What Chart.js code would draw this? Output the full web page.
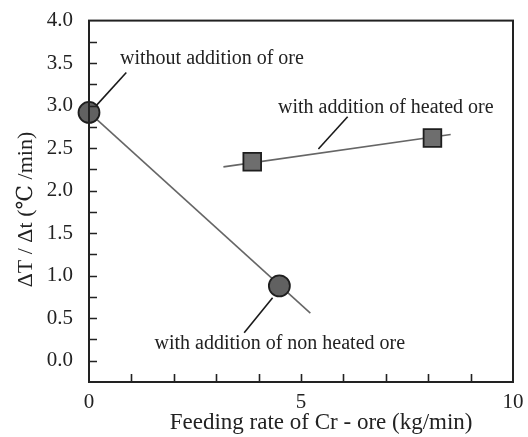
<!DOCTYPE html>
<html>
<head>
<meta charset="utf-8">
<script src="https://cdn.jsdelivr.net/npm/chart.js@4.4.1/dist/chart.umd.min.js"></script>
<style>
  html, body { margin: 0; padding: 0; background: #fff; }
  #wrap { width: 528px; height: 437px; }
</style>
</head>
<body>
<div id="wrap"><canvas id="chart" width="528" height="437"></canvas></div>
<script>
// data
const nonHeatedX = [0, 4.49];
const nonHeatedY = [2.92, 0.88];
const nonHeatedFitX = [0, 5.22];
const nonHeatedFitY = [2.92, 0.56];

const heatedX = [3.85, 8.1];
const heatedY = [2.34, 2.62];
const heatedFitX = [3.17, 8.53];
const heatedFitY = [2.28, 2.66];

// annotation labels with their leader lines (data coords)
const noteTexts = ['without addition of ore', 'with addition of heated ore', 'with addition of non heated ore'];
const noteTextX = [2.9, 7.0, 4.5];
const noteTextY = [3.55, 2.98, 0.2];
const leaderX = [[0.17, 0.88], [5.41, 6.1], [3.66, 4.33]];
const leaderY = [[3.0, 3.39], [2.49, 2.87], [0.33, 0.74]];

const xTickLabels = { 0: '0', 5: '5', 10: '10' };

const SERIF = '"Liberation Serif", "DejaVu Serif", serif';

function toPts(xs, ys) {
    return xs.map((x, i) => ({ x: x, y: ys[i] }));
}

const leaderSets = leaderX.map((xs, i) => ({
    type: 'line',
    data: toPts(xs, leaderY[i]),
    borderColor: '#1a1a1a',
    borderWidth: 1.6,
    pointRadius: 0,
    order: 3
}));

// inward ticks + box + notes
const frame = {
    id: 'frame',
    afterDatasetsDraw(chart) {
        const ctx = chart.ctx;
        const a = chart.chartArea;
        const xs = chart.scales.x, ys = chart.scales.y;
        ctx.save();
        ctx.strokeStyle = '#222';
        ctx.lineWidth = 1.6;
        ctx.beginPath();
        ys.ticks.forEach(t => {
            if (t.value <= ys.min + 1e-6 || t.value >= ys.max - 1e-6) return;
            const py = Math.round(ys.getPixelForValue(t.value)) + 0.5;
            ctx.moveTo(a.left, py);
            ctx.lineTo(a.left + 8, py);
        });
        xs.ticks.forEach(t => {
            if (t.value <= xs.min || t.value >= xs.max) return;
            const px = Math.round(xs.getPixelForValue(t.value)) + 0.5;
            ctx.moveTo(px, a.bottom);
            ctx.lineTo(px, a.bottom - 8);
        });
        ctx.stroke();
        ctx.lineWidth = 2;
        ctx.strokeRect(a.left, a.top, a.right - a.left, a.bottom - a.top);

        ctx.fillStyle = '#222';
        ctx.font = '20px ' + SERIF;
        ctx.textAlign = 'center';
        ctx.textBaseline = 'middle';
        noteTexts.forEach((s, i) => {
            ctx.fillText(s, xs.getPixelForValue(noteTextX[i]), ys.getPixelForValue(noteTextY[i]));
        });
        ctx.restore();
    }
};

new Chart(document.getElementById('chart'), {
    type: 'scatter',
    data: {
        datasets: [
            {
                type: 'line',
                data: toPts(nonHeatedFitX, nonHeatedFitY),
                borderColor: '#666',
                borderWidth: 1.6,
                pointRadius: 0,
                order: 2
            },
            {
                type: 'line',
                data: toPts(heatedFitX, heatedFitY),
                borderColor: '#666',
                borderWidth: 1.6,
                pointRadius: 0,
                order: 2
            },
            ...leaderSets,
            {
                data: toPts(nonHeatedX, nonHeatedY),
                pointStyle: 'circle',
                pointRadius: 10.5,
                backgroundColor: '#616161',
                borderColor: '#1e1e1e',
                borderWidth: 1.8,
                order: 1
            },
            {
                data: toPts(heatedX, heatedY),
                pointStyle: 'rect',
                pointRadius: 12.5,
                backgroundColor: '#6e6e6e',
                borderColor: '#1e1e1e',
                borderWidth: 1.8,
                order: 1
            }
        ]
    },
    options: {
        responsive: false,
        animation: false,
        clip: false,
        layout: { padding: { top: 1, right: 15, left: 0, bottom: 0 } },
        plugins: { legend: { display: false }, tooltip: { enabled: false } },
        scales: {
            x: {
                type: 'linear',
                min: 0, max: 10,
                ticks: {
                    stepSize: 1,
                    autoSkip: false,
                    maxRotation: 0,
                    padding: 0,
                    color: '#222',
                    font: { family: SERIF, size: 21 },
                    callback: v => xTickLabels[v] || ''
                },
                grid: { display: false },
                border: { display: false },
                title: {
                    display: true,
                    text: '       Feeding rate of Cr - ore (kg/min)',
                    color: '#222',
                    font: { family: SERIF, size: 23 },
                    padding: { top: 0, bottom: 0 }
                },
                afterFit: s => { s.height = 55; }
            },
            y: {
                type: 'linear',
                min: -0.25, max: 4.0,
                ticks: {
                    stepSize: 0.25,
                    autoSkip: false,
                    padding: 8,
                    color: '#222',
                    font: { family: SERIF, size: 21 },
                    callback: v => (Math.abs(v * 2 - Math.round(v * 2)) < 1e-6 && v >= 0) ? v.toFixed(1) : ''
                },
                grid: { display: false },
                border: { display: false },
                title: {
                    display: true,
                    text: 'ΔT / Δt (℃ /min)   ',
                    color: '#222',
                    font: { family: SERIF, size: 22 },
                    padding: { top: 13, bottom: 0 }
                },
                afterFit: s => { s.width = 89; }
            }
        }
    },
    plugins: [frame]
});
</script>
</body>
</html>
